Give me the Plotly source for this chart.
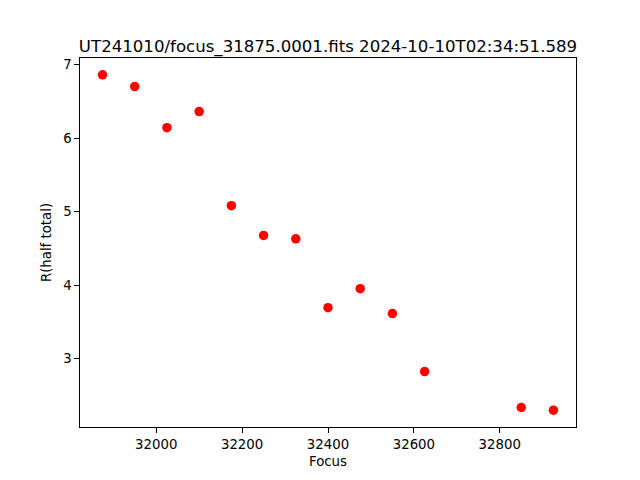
import plotly.graph_objects as go

focus = [31875, 31950, 32025, 32100, 32175, 32250, 32325, 32400, 32475, 32550, 32625, 32850, 32925]
r_half = [6.86, 6.70, 6.14, 6.36, 5.08, 4.675, 4.63, 3.694, 3.952, 3.613, 2.825, 2.336, 2.299]
title = "UT241010/focus_31875.0001.fits 2024-10-10T02:34:51.589"

xmin, xmax = min(focus), max(focus)
ymin, ymax = min(r_half), max(r_half)
xm = (xmax - xmin) * 0.05
ym = (ymax - ymin) * 0.05

fig = go.Figure(go.Scatter(x=focus, y=r_half, mode="markers",
                           marker=dict(color="red", size=9.5, line=dict(width=0))))

font = "DejaVu Sans"
# page body has an 8px margin, so the figure is offset by 8px
fig.update_layout(
    width=632, height=472,
    margin=dict(l=72, r=64, t=49.6, b=52.8, autoexpand=False),
    paper_bgcolor="white", plot_bgcolor="white",
    font=dict(family=font, color="black", size=13.3),
    showlegend=False,
    title=dict(text=title, x=0.5, xref="paper", xanchor="center",
               y=1, yref="paper", yanchor="bottom", pad=dict(b=6), automargin=False,
               font=dict(family=font, size=16.6, color="black")),
)
axis_common = dict(showline=True, linecolor="black", linewidth=1, mirror=True,
                   ticks="outside", ticklen=4.7, tickwidth=1, tickcolor="black",
                   showgrid=False, zeroline=False, automargin=False,
                   tickfont=dict(family=font, size=13.3, color="black"))
fig.update_xaxes(range=[xmin - xm, xmax + xm], tickvals=[32000, 32200, 32400, 32600, 32800],
                 tickformat="d",
                 title=dict(text="Focus", font=dict(family=font, size=13.3), standoff=6),
                 **axis_common)
fig.update_yaxes(range=[ymin - ym, ymax + ym], tickvals=[3, 4, 5, 6, 7],
                 title=dict(text="R(half total)", font=dict(family=font, size=13.3), standoff=8),
                 **axis_common)

fig.write_html("out.html")
